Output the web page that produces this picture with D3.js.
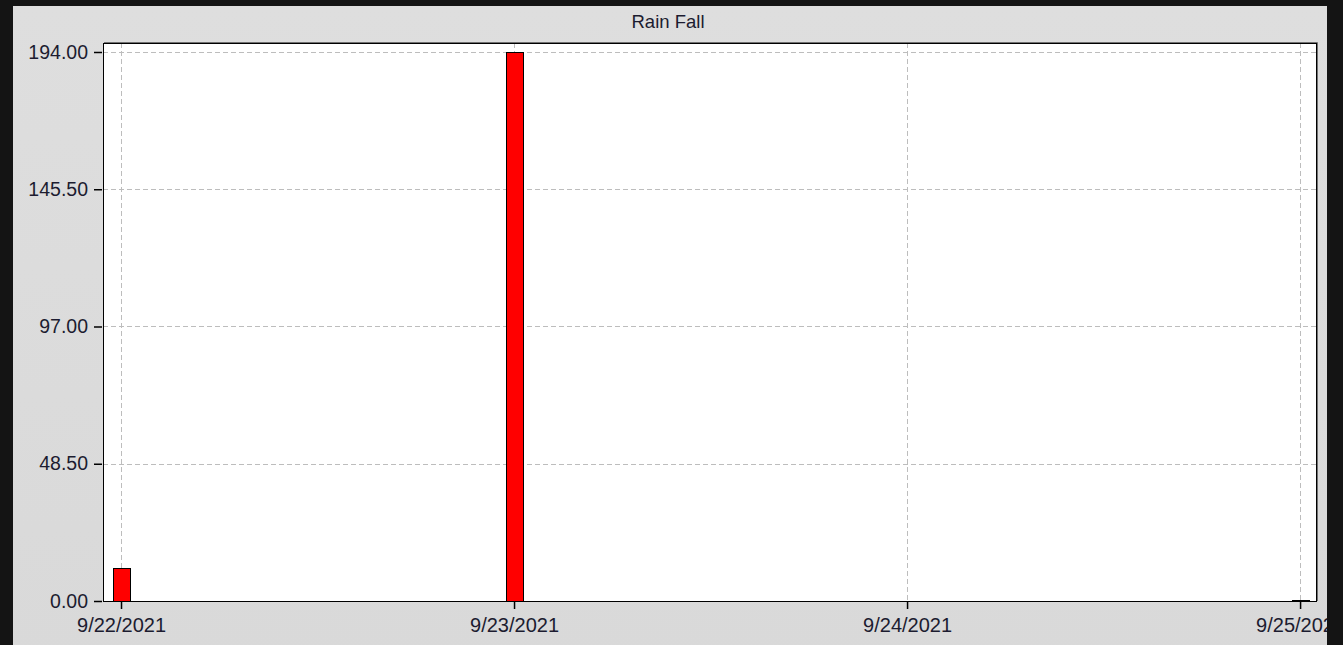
<!DOCTYPE html>
<html>
<head>
<meta charset="utf-8">
<script src="https://cdn.jsdelivr.net/npm/d3@7"></script>
<style>
  html, body { margin: 0; padding: 0; background: #161616; }
  svg { display: block; }
</style>
</head>
<body>
<div id="chart"></div>
<script>
const dates = ["2021-09-22", "2021-09-23", "2021-09-24", "2021-09-25"];
const rainfall = [11.8, 194.0, 0, 0.4];
const yTicks = [0, 48.5, 97, 145.5, 194];
const title = "Rain Fall";

const width = 1343, height = 645;
const panel = { x: 13, y: 6, w: 1314, h: 650 };
const padding = [43, 26, 44, 103]; // top right bottom left (plot box)
const textColor = "#1c1c30";
const font = "Liberation Sans, Arial, sans-serif";

const parse = d3.timeParse("%Y-%m-%d");
const data = dates.map((d, i) => ({ date: parse(d), value: rainfall[i] }));

const svg = d3.select("#chart").append("svg")
  .attr("width", width).attr("height", height);

// dark surround + grey window panel
svg.append("rect").attr("width", width).attr("height", height).attr("fill", "#141414");
const grad = svg.append("defs").append("linearGradient")
  .attr("id", "panelGrad").attr("x1", 0).attr("x2", 0).attr("y1", 0).attr("y2", 1);
grad.append("stop").attr("offset", "0%").attr("stop-color", "#dedede");
grad.append("stop").attr("offset", "100%").attr("stop-color", "#d9d9d9");
svg.append("rect")
  .attr("x", panel.x).attr("y", panel.y)
  .attr("width", panel.w).attr("height", panel.h)
  .attr("fill", "url(#panelGrad)");

const x0 = padding[3], x1 = width - padding[1];
const y0 = height - padding[2], y1 = padding[0];

// 9/22 at 121, 9/25 at 1300
const dayPx = (1300 - 121) / 3;
const xScale = d3.scaleTime()
  .domain([
    d3.timeMinute.offset(data[0].date, -Math.round((121 - x0) / dayPx * 1440)),
    d3.timeMinute.offset(data[3].date, Math.round((x1 - 1300) / dayPx * 1440))
  ])
  .range([x0, x1]);

const yScale = d3.scaleLinear()
  .domain([0, 194 + (52 - y1) / ((601.5 - 52) / 194)])
  .range([y0, y1]);

// plot area
svg.append("rect")
  .attr("x", x0).attr("y", y1)
  .attr("width", x1 - x0).attr("height", y0 - y1)
  .attr("fill", "#ffffff");

// grid
const gridG = svg.append("g").attr("id", "grid-g")
  .attr("stroke", "#bdbdbd").attr("stroke-dasharray", "5,3").attr("stroke-width", 1);
gridG.selectAll("line.h").data(yTicks.slice(1)).join("line")
  .attr("class", "h")
  .attr("x1", x0).attr("x2", x1)
  .attr("y1", (d) => Math.round(yScale(d)) + 0.5)
  .attr("y2", (d) => Math.round(yScale(d)) + 0.5);
gridG.selectAll("line.v").data(data).join("line")
  .attr("class", "v")
  .attr("x1", (d) => Math.round(xScale(d.date)) + 0.5)
  .attr("x2", (d) => Math.round(xScale(d.date)) + 0.5)
  .attr("y1", y1).attr("y2", y0);

// bars
const barW = 17;
svg.append("g").attr("id", "bars-g")
  .selectAll("rect").data(data.filter((d) => d.value > 0)).join("rect")
  .attr("x", (d) => Math.round(xScale(d.date) - barW / 2) + 0.5)
  .attr("y", (d) => Math.round(yScale(d.value)) + 0.5)
  .attr("width", barW)
  .attr("height", (d) => Math.max(1, Math.round(y0 - yScale(d.value))))
  .attr("fill", "#ff0000")
  .attr("stroke", "#000")
  .attr("stroke-width", 1);

// plot frame
svg.append("rect")
  .attr("x", x0 + 0.5).attr("y", y1 + 0.5)
  .attr("width", x1 - x0 - 1).attr("height", y0 - y1)
  .attr("fill", "none").attr("stroke", "#000").attr("stroke-width", 1);
svg.append("path")
  .attr("d", `M${x0 + 1},${y1 - 0.5}H${x1 + 0.5}V${y0}`)
  .attr("fill", "none").attr("stroke", "#707070").attr("stroke-width", 1);

// y axis
const yAxisG = svg.append("g").attr("id", "y-axis-g")
  .attr("transform", `translate(${x0 - 1},0)`)
  .call(d3.axisLeft(yScale).tickValues(yTicks).tickFormat(d3.format(".2f"))
    .tickSize(8).tickPadding(6));
yAxisG.select(".domain").remove();
yAxisG.selectAll(".tick line").attr("stroke", "#000").attr("stroke-width", 1.5);
yAxisG.selectAll(".tick text")
  .attr("fill", textColor).attr("font-family", font).attr("font-size", 19.5);

// x axis
const xAxisG = svg.append("g").attr("id", "x-axis-g")
  .attr("transform", `translate(0,${y0 + 1})`)
  .call(d3.axisBottom(xScale).tickValues(data.map((d) => d.date))
    .tickFormat(d3.timeFormat("%-m/%-d/%Y")).tickSize(7).tickPadding(9));
xAxisG.select(".domain").remove();
xAxisG.selectAll(".tick line").attr("stroke", "#000").attr("stroke-width", 1.5);
xAxisG.selectAll(".tick text")
  .attr("fill", textColor).attr("font-family", font).attr("font-size", 20);

// title
svg.append("text")
  .attr("x", 668).attr("y", 28)
  .attr("text-anchor", "middle")
  .attr("fill", textColor).attr("font-family", font).attr("font-size", 18.5)
  .text(title);

// right clip: dark strip beyond the panel
svg.append("rect").attr("x", panel.x + panel.w).attr("y", 0)
  .attr("width", width - panel.x - panel.w).attr("height", height)
  .attr("fill", "#141414");
</script>
</body>
</html>
